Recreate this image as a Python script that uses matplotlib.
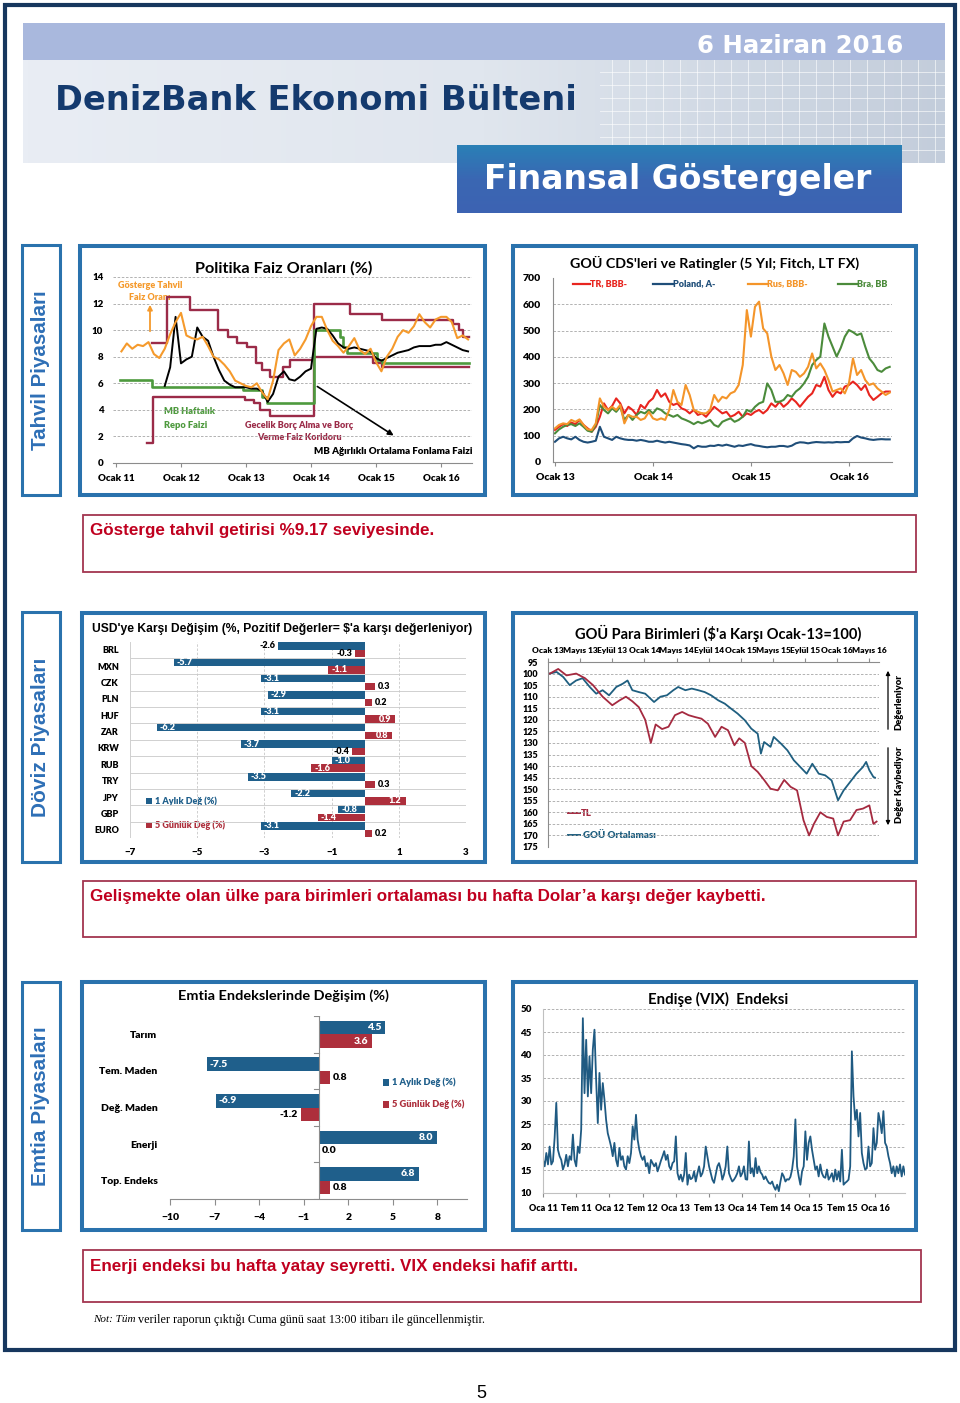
import numpy as np
import matplotlib
matplotlib.use("Agg")
import matplotlib.pyplot as plt
from matplotlib.patches import Rectangle
from matplotlib.colors import LinearSegmentedColormap

plt.rcParams["font.family"] = ["Lato", "DejaVu Sans"]
plt.rcParams["font.weight"] = "heavy"

# ---------------- data ----------------
# Politika faiz oranlari (%)
pol_ticks = [2011, 2012, 2013, 2014, 2015, 2016]
pol_labels = ["Ocak 11", "Ocak 12", "Ocak 13", "Ocak 14", "Ocak 15", "Ocak 16"]
bond_start = 2011 + 1 / 12     # monthly from Feb 2011
bond = [8.4, 9.0, 8.6, 8.9, 8.8, 9.1, 8.2, 7.9, 8.6, 9.7, 10.6,
        11.3, 9.6, 9.4, 9.3, 9.5, 8.8, 8.0, 7.8, 7.4, 6.9, 6.2, 6.0,
        5.8, 5.7, 6.0, 5.3, 4.8, 6.2, 8.5, 9.0, 9.3, 8.1, 8.6, 9.3,
        10.3, 11.0, 11.0, 10.0, 9.2, 8.8, 8.3, 8.8, 9.4, 8.5, 8.2, 8.6,
        7.6, 6.9, 8.0, 8.6, 9.5, 10.0, 9.8, 10.3, 11.2, 10.6, 10.2, 10.8,
        11.0, 11.0, 10.6, 9.4, 9.6, 9.3]
aofm_start = 2011 + 9 / 12     # monthly from Oct 2011
aofm = [5.8, 7.2, 11.0,
        7.5, 7.8, 8.0, 10.2, 9.5, 9.2, 8.0, 7.0, 6.2, 5.9, 5.7, 5.7,
        5.7, 5.6, 5.6, 5.4, 4.6, 5.2, 6.5, 6.9, 6.3, 6.2, 6.5, 6.9,
        7.1, 10.1, 10.2, 10.1, 9.6, 9.0, 8.7, 8.6, 8.7, 8.6, 8.5, 8.4,
        7.9, 7.7, 7.9, 8.1, 8.3, 8.4, 8.5, 8.7, 8.8, 8.8, 8.8, 8.9,
        8.9, 9.1, 8.9, 8.7, 8.5, 8.4]
corr_up_t = [2011.55, 2011.79, 2012.14, 2012.57, 2012.73, 2012.86, 2013.01, 2013.15,
             2013.25, 2013.37, 2013.57, 2013.68, 2014.04, 2014.60, 2015.09, 2016.19,
             2016.27, 2016.34, 2016.43]
corr_up = [9.0, 12.5, 11.5, 10.0, 9.5, 9.0, 8.75, 7.5, 7.0, 6.5, 7.25, 7.75,
           12.0, 11.25, 10.75, 10.5, 10.0, 9.5, 9.5]
corr_lo_t = [2011.47, 2011.57, 2012.99, 2013.13, 2013.22, 2013.37, 2014.04, 2014.95,
             2015.09, 2016.43]
corr_lo = [1.5, 5.0, 4.75, 4.5, 4.0, 3.5, 8.0, 7.5, 7.25, 7.25]
repo_t = [2011.06, 2011.55, 2012.96, 2013.24, 2013.33, 2014.04, 2014.45, 2014.50,
          2014.55, 2015.01, 2015.09, 2016.43]
repo = [6.25, 5.75, 5.5, 5.0, 4.5, 10.0, 9.5, 8.75, 8.25, 7.75, 7.5, 7.5]

# GOU CDS (half-monthly from Jan 2013)
cds_ticks = [2013, 2014, 2015, 2016]
cds_labels = ["Ocak 13", "Ocak 14", "Ocak 15", "Ocak 16"]
cds_tr = [122, 134, 144, 137, 150, 144, 160, 141, 128, 115,
          134, 172, 223, 198, 213, 242, 223, 185, 210, 198,
          179, 217, 204, 229, 242, 274, 248, 261, 229, 217,
          223, 204, 198, 185, 198, 179, 185, 172, 191, 210,
          198, 185, 191, 172, 179, 191, 172, 185, 179, 191,
          198, 185, 198, 223, 210, 229, 210, 223, 242, 229,
          210, 229, 248, 261, 293, 287, 324, 274, 248, 268,
          261, 287, 293, 306, 293, 274, 293, 255, 236, 248,
          261, 268, 268]
cds_pl = [77, 90, 96, 90, 86, 96, 84, 77, 74, 77,
          81, 134, 96, 90, 84, 96, 90, 86, 84, 84,
          81, 84, 81, 77, 77, 81, 77, 74, 77, 74,
          71, 68, 66, 63, 52, 61, 58, 58, 62, 61,
          65, 62, 66, 62, 58, 63, 61, 65, 68, 63,
          61, 58, 56, 58, 58, 61, 61, 58, 62, 71,
          75, 74, 71, 74, 76, 75, 74, 75, 74, 76,
          75, 76, 76, 90, 99, 93, 90, 86, 84, 86,
          87, 86, 86]
cds_ru = [128, 141, 147, 144, 160, 153, 162, 141, 124, 122,
          147, 242, 210, 198, 210, 198, 217, 147, 179, 172,
          172, 160, 166, 191, 166, 160, 166, 160, 198, 274,
          229, 217, 293, 255, 198, 191, 185, 185, 198, 255,
          229, 248, 242, 261, 268, 293, 369, 578, 477, 591,
          610, 508, 489, 401, 350, 369, 337, 293, 350, 343,
          324, 337, 362, 413, 356, 375, 350, 312, 268, 274,
          280, 261, 299, 394, 331, 350, 312, 293, 299, 280,
          268, 255, 264]
cds_br = [109, 124, 134, 141, 144, 137, 147, 134, 119, 115,
          141, 217, 198, 185, 204, 191, 210, 160, 179, 160,
          179, 191, 185, 198, 185, 204, 198, 185, 179, 172,
          179, 166, 160, 153, 144, 153, 147, 153, 160, 141,
          134, 153, 160, 166, 153, 160, 172, 198, 191, 210,
          223, 229, 299, 274, 229, 229, 236, 255, 248, 268,
          280, 299, 324, 369, 388, 401, 527, 477, 439, 401,
          434, 477, 502, 494, 483, 489, 439, 394, 375, 350,
          343, 356, 362]
cds_names = ["TR, BBB-", "Poland, A-", "Rus, BBB-", "Bra, BB"]

# USD'ye karsi degisim (%)
fx_cats = ["BRL", "MXN", "CZK", "PLN", "HUF", "ZAR", "KRW", "RUB", "TRY", "JPY", "GBP", "EURO"]
fx_1m = [-2.6, -5.7, -3.1, -2.9, -3.1, -6.2, -3.7, -1.0, -3.5, -2.2, -0.8, -3.1]
fx_5d = [-0.3, -1.1, 0.3, 0.2, 0.9, 0.8, -0.4, -1.6, 0.3, 1.2, -1.4, 0.2]

# GOU para birimleri (Ocak-13 = 100), months since Jan 2013
fxi_ticks = [0, 4, 8, 12, 16, 20, 24, 28, 32, 36, 40]
fxi_labels = ["Ocak 13", "Mayıs 13", "Eylül 13", "Ocak 14", "Mayıs 14", "Eylül 14",
              "Ocak 15", "Mayıs 15", "Eylül 15", "Ocak 16", "Mayıs 16"]
tl_m = [0, 0.25, 1.27, 2.3, 3.5, 4.6, 5.6, 6.8, 8.0, 8.9,
        9.7, 10.5, 11.3, 12.1, 12.8, 13.4, 14.2, 15.0, 15.8, 16.7,
        17.5, 18.3, 19.1, 19.9, 20.8, 21.6, 22.4, 23.2, 23.8, 24.5,
        25.3, 26.1, 26.9, 27.7, 28.6, 29.4, 30.2, 31.0, 31.8, 32.5,
        33.1, 33.9, 34.7, 35.5, 36.1, 36.8, 37.6, 38.4, 39.2, 40.0,
        40.5, 40.9]
tl_v = [100, 100, 98, 100.8, 100, 102, 105, 110, 113.7, 111.6,
        110, 112, 114.5, 120, 130, 122, 124, 123, 118, 116.6,
        118, 118.8, 119.5, 121.7, 127.4, 123, 124.5, 131, 128, 130,
        140, 142.5, 146, 149.8, 150.5, 146, 149, 150.5, 163.4, 170,
        165, 160, 162, 162.7, 170, 164, 163.4, 159, 158.4, 157,
        165, 164]
goo_m = [0, 0.25, 1.07, 1.9, 2.7, 3.5, 4.3, 5.2, 6.0, 6.8,
         7.6, 8.5, 9.3, 9.9, 10.5, 11.3, 12.1, 13.2, 14.0, 14.8,
         15.6, 16.2, 17.1, 17.9, 18.7, 19.5, 20.3, 21.2, 22.0, 22.8,
         23.6, 24.5, 25.3, 26.1, 26.5, 26.9, 27.7, 28.1, 29.0, 29.8,
         30.6, 31.4, 32.2, 32.9, 33.7, 34.5, 35.3, 36.1, 36.8, 37.6,
         38.4, 39.2, 39.6, 40.0, 40.5, 40.7]
goo_v = [100, 100, 99.3, 101.5, 105, 103, 102, 105.8, 108.7, 107.2,
         109.4, 105.8, 104.4, 103, 107.2, 108, 108.7, 112.3, 110, 109.4,
         107.2, 105.8, 107.2, 106.5, 107.2, 108, 109.4, 111.6, 113, 115.2,
         117.3, 120.2, 123.8, 126, 134.6, 129.6, 131.7, 127.4, 130.3, 133.2,
         137.5, 140.4, 143.3, 139, 143.3, 144, 146.2, 154.8, 150.5, 146.9,
         143.3, 140.4, 138.2, 141.8, 144.7, 145]

# Emtia endekslerinde degisim (%)
cm_cats = ["Tarım", "Tem. Maden", "Değ. Maden", "Enerji", "Top. Endeks"]
cm_1m = [4.5, -7.5, -6.9, 8.0, 6.8]
cm_5d = [3.6, 0.8, -1.2, 0.0, 0.8]
bar_names = ["1 Aylık Değ (%)", "5 Günlük Değ (%)"]

# VIX (every 0.025 yr from Jan 2011)
vix_start = 2011.0
vix_ticks = [2011 + 0.5 * k for k in range(11)]
vix_labels = ["Oca 11", "Tem 11", "Oca 12", "Tem 12", "Oca 13", "Tem 13",
              "Oca 14", "Tem 14", "Oca 15", "Tem 15", "Oca 16"]
vix = [17.2, 15.8, 18.7, 16.2, 20.1, 16.2, 16.9, 22.0, 29.6, 19.4,
       18.0, 17.2, 15.1, 16.2, 18.3, 15.8, 18.0, 17.2, 22.7, 17.2,
       15.8, 20.1, 18.7, 23.8, 48.0, 31.7, 43.3, 31.0, 39.7, 31.7,
       41.2, 45.5, 34.6, 25.2, 36.1, 28.1, 33.9, 30.3, 25.9, 23.0,
       21.6, 20.1, 18.0, 20.9, 17.2, 15.8, 19.8, 17.2, 18.0, 15.8,
       15.1, 18.0, 16.5, 18.7, 24.5, 21.6, 27.0, 21.6, 19.4, 18.0,
       17.2, 18.0, 15.8, 16.5, 14.3, 17.2, 16.5, 15.8, 16.5, 14.7,
       15.8, 17.0, 18.0, 19.1, 17.2, 18.3, 15.8, 15.1, 16.5, 16.9,
       22.3, 14.3, 12.9, 14.0, 12.5, 14.0, 18.7, 11.8, 14.0, 13.0,
       13.3, 14.7, 12.5, 14.3, 15.8, 13.6, 14.3, 15.8, 20.1, 18.0,
       15.8, 14.3, 12.9, 12.2, 14.0, 15.8, 16.5, 15.1, 12.9, 14.0,
       15.8, 20.1, 14.3, 13.3, 12.5, 12.9, 13.5, 14.3, 15.8, 13.6,
       14.3, 15.8, 13.0, 12.9, 21.2, 14.3, 15.4, 13.6, 17.6, 14.3,
       15.8, 14.5, 14.0, 13.0, 13.6, 12.8, 12.2, 12.0, 12.5, 11.4,
       10.7, 11.8, 10.4, 12.5, 14.3, 13.6, 12.5, 13.0, 12.9, 13.5,
       15.1, 18.0, 26.0, 15.8, 13.6, 11.8, 14.7, 15.8, 23.4, 17.2,
       20.9, 22.3, 19.4, 17.2, 15.1, 15.8, 13.6, 16.2, 14.3, 13.5,
       13.3, 15.1, 12.9, 13.5, 14.3, 12.5, 15.1, 12.9, 14.7, 12.5,
       19.4, 11.8, 12.2, 12.5, 12.9, 15.8, 40.8, 31.0, 25.9, 28.1,
       22.3, 27.4, 18.7, 16.5, 15.1, 15.4, 20.1, 15.8, 16.5, 24.1,
       19.4, 20.9, 27.4, 25.6, 23.0, 27.8, 20.9, 20.1, 18.0, 16.5,
       14.3, 15.8, 13.6, 15.8, 14.3, 16.2, 13.6, 15.8, 14.0]

# ---------------- colours ----------------
NAVY = "#17375e"
PANEL = "#2a72ad"
BOXRED = "#a3354f"
TXTRED = "#c0001f"
BLUE = "#1f5f8b"
RED = "#ad2f3c"
MAROON = "#9b2b48"
GRID = "#a6a6a6"
AXC = "#8c8c8c"

W, H = 960, 1403
fig = plt.figure(figsize=(W / 100, H / 100), dpi=100)
page = fig.add_axes([0, 0, 1, 1])
page.axis("off")
R = fig.canvas.get_renderer()


def px_axes(x0, y0, x1, y1):
    ax = fig.add_axes([x0 / W, 1 - y1 / H, (x1 - x0) / W, (y1 - y0) / H])
    ax.set_facecolor("none")
    for s in ax.spines.values():
        s.set_visible(False)
    return ax


def put(x, y, s, width=None, size=8, vertical=False, **kw):
    kw.setdefault("va", "center")
    t = page.text(x, y, s, fontsize=size, **kw)
    if width:
        bb = t.get_window_extent(renderer=R)
        ext = bb.height if vertical else bb.width
        t.set_fontsize(size * width / ext)
    return t


def rect(x0, y0, x1, y1, ec, lw, fc="none", z=2):
    page.add_patch(Rectangle((x0, y0), x1 - x0, y1 - y0, ec=ec, fc=fc, lw=lw, zorder=z))


def hgrid(ax, vals):
    for v in vals:
        ax.axhline(v, color=GRID, lw=0.6, ls=(0, (3, 2)), zorder=0)


# ---------------- page frame & header ----------------
rect(5, 5, 955, 1350, NAVY, 3.0)
page.add_patch(Rectangle((23, 23), 922, 37, fc="#a9b8dd", ec="none", zorder=1))
hcm = LinearSegmentedColormap.from_list("h", ["#e9edf4", "#e0e6ee", "#c3cddb"])
page.imshow(np.linspace(0, 1, 200)[None, :], extent=(23, 945, 163, 60), cmap=hcm,
            aspect="auto", zorder=1)
for gx in range(612, 945, 17):
    page.plot([gx, gx], [60, 163], color="white", lw=0.7, alpha=0.6, zorder=1)
for gy in range(72, 163, 13):
    page.plot([600, 945], [gy, gy], color="white", lw=0.7, alpha=0.6, zorder=1)
fcm = LinearSegmentedColormap.from_list("f", ["#2a80b6", "#3a67b3", "#3d63b2"])
page.imshow(np.linspace(0, 1, 100)[:, None], extent=(457, 902, 213, 145), cmap=fcm,
            aspect="auto", zorder=2)
page.set_xlim(0, W)
page.set_ylim(H, 0)

put(903, 46, "6 Haziran 2016", width=207, size=16, ha="right", color="white",
    family="DejaVu Sans", weight="bold", zorder=3)
put(55, 101, "DenizBank Ekonomi Bülteni", width=521, size=24, ha="left", color="#143a6e",
    family="DejaVu Sans", weight="bold", zorder=3)
put(678, 179, "Finansal Göstergeler", width=388, size=24, ha="center", color="white",
    family="DejaVu Sans", weight="bold", zorder=3)

# section boxes, panels and comment boxes
sections = [("Tahvil Piyasaları", 245, 495), ("Döviz Piyasaları", 612, 862),
            ("Emtia Piyasaları", 982, 1230)]
for name, y0, y1 in sections:
    rect(22, y0, 60, y1, PANEL, 2.2)
    put(41, (y0 + y1) / 2, name, width=158, size=12, vertical=True, rotation=90,
        ha="center", color="#2e6fb6", family="Liberation Sans", weight="bold")

for x0, y0, x1, y1 in [(80, 246, 485, 495), (513, 246, 916, 495), (82, 613, 485, 862),
                       (513, 613, 916, 862), (82, 982, 485, 1230), (513, 982, 916, 1230)]:
    rect(x0, y0, x1, y1, PANEL, 2.9)

comments = [(83, 515, 916, 572, "Gösterge tahvil getirisi %9.17 seviyesinde.", 344),
            (83, 881, 916, 937, "Gelişmekte olan ülke para birimleri ortalaması bu hafta "
                                "Dolar’a karşı değer kaybetti.", 676),
            (83, 1250, 921, 1302, "Enerji endeksi bu hafta yatay seyretti. VIX endeksi "
                                  "hafif arttı.", 487)]
for x0, y0, x1, y1, s, w in comments:
    rect(x0, y0, x1, y1, BOXRED, 1.3)
    put(90, y0 + 16, s, width=w, size=11, ha="left", color=TXTRED,
        family="Liberation Sans", weight="bold")

t_not = put(93, 1320, "Not: Tüm", size=8, ha="left", style="italic", weight="normal",
            family="Liberation Serif")
bb = t_not.get_window_extent(renderer=R)
put(bb.x1 + 3, 1320, "veriler raporun çıktığı Cuma günü saat 13:00 itibarı ile güncellenmiştir.",
    width=484 - bb.x1 - 3, size=8, ha="left", weight="normal", family="Liberation Serif")
put(481, 1393, "5", size=13, ha="center", weight="normal", family="Liberation Sans")

# ---------------- chart 1: policy rates ----------------
put(283.5, 268, "Politika Faiz Oranları (%)", width=177, size=10, ha="center", weight="bold")
ax = px_axes(113, 277, 472, 463)
ax.set_xlim(2010.954, 2016.477)
ax.set_ylim(0, 14)
hgrid(ax, range(2, 15, 2))
ax.step(corr_up_t, corr_up, where="post", color=MAROON, lw=1.7)
ax.step(corr_lo_t, corr_lo, where="post", color=MAROON, lw=1.7)
ax.step(repo_t, repo, where="post", color="#4e9a3e", lw=1.9)
ax.plot(aofm_start + np.arange(len(aofm)) / 12, aofm, color="black", lw=1.4)
ax.plot(bond_start + np.arange(len(bond)) / 12, bond, color="#f59a2c", lw=1.5)
ax.set_yticks(range(0, 15, 2))
ax.set_xticks(pol_ticks, pol_labels)
ax.spines["bottom"].set_visible(True)
ax.spines["bottom"].set_color(AXC)
ax.tick_params(axis="y", length=0, pad=7, labelsize=7)
ax.tick_params(axis="x", length=3, color=AXC, pad=5, labelsize=7)

put(150, 286, "Gösterge Tahvil", size=6.5, ha="center", color="#f59a2c")
put(150, 298, "Faiz Oranı", size=6.5, ha="center", color="#f59a2c")
page.annotate("", xy=(150, 302), xytext=(150, 334),
              arrowprops=dict(arrowstyle="-|>", color="#f59a2c", lw=1.3, mutation_scale=7))
put(164, 412, "MB Haftalık", size=6.7, ha="left", color="#4e9a3e")
put(164, 425, "Repo Faizi", size=6.7, ha="left", color="#4e9a3e")
put(299, 426, "Gecelik Borç Alma ve Borç", size=6.5, ha="center", color=MAROON)
put(299, 437, "Verme Faiz Koridoru", size=6.5, ha="center", color=MAROON)
put(472, 452, "MB Ağırlıklı Ortalama Fonlama Faizi", width=159, size=6.3, ha="right",
    color="black")
page.annotate("", xy=(396, 437), xytext=(315, 385),
              arrowprops=dict(arrowstyle="-|>", color="black", lw=1.2, mutation_scale=8))

# ---------------- chart 2: CDS ----------------
put(715, 263, "GOÜ CDS'leri ve Ratingler (5 Yıl; Fitch, LT FX)", width=290, size=10,
    ha="center", weight="bold")
cds_cols = ["#e8251f", "#1f4e79", "#f4952a", "#4b8b3b"]
for (lx, tx), name, c in zip([(573, 590), (653, 673), (748, 767), (838, 857)],
                             cds_names, cds_cols):
    page.plot([lx, tx], [284, 284], color=c, lw=1.6)
    put(tx, 284, name, size=6.5, ha="left", color=c)
ax = px_axes(553, 278, 892, 462)
ax.set_xlim(2012.98, 2016.44)
ax.set_ylim(0, 700)
hgrid(ax, range(100, 700, 100))
t_cds = 2013 + np.arange(len(cds_tr)) * 0.5 / 12
for series, c in [(cds_pl, cds_cols[1]), (cds_tr, cds_cols[0]),
                  (cds_br, cds_cols[3]), (cds_ru, cds_cols[2])]:
    ax.plot(t_cds, series, color=c, lw=1.5)
ax.set_yticks(range(0, 701, 100))
ax.set_xticks(cds_ticks, cds_labels)
for s in ("left", "bottom"):
    ax.spines[s].set_visible(True)
    ax.spines[s].set_color(AXC)
ax.tick_params(axis="y", length=0, pad=9, labelsize=7.5)
ax.tick_params(axis="x", length=3, color=AXC, pad=5, labelsize=7.5)


# ---------------- bar label helper ----------------
def label_bar(ax, v, yc, ppu, size, force_out=False):
    inside = abs(v) * ppu >= 20 and not force_out
    if inside:
        ax.annotate(f"{v:.1f}", (v, yc), xytext=(2 if v < 0 else -3, 0),
                    textcoords="offset points", ha="left" if v < 0 else "right",
                    va="center", color="white", fontsize=size)
    else:
        ax.annotate(f"{v:.1f}", (v, yc), xytext=(-2 if v < 0 else 2, 0),
                    textcoords="offset points", ha="right" if v < 0 else "left",
                    va="center", color="black", fontsize=size)


# ---------------- chart 3: USD bars ----------------
put(282, 629, "USD'ye Karşı Değişim (%, Pozitif Değerler= $'a karşı değerleniyor)",
    width=380, size=9, ha="center", family="Liberation Sans", weight="bold")
ax = px_axes(130, 641.5, 466, 838)
ax.set_xlim(-7, 3)
ax.set_ylim(len(fx_cats) - 0.5, -0.5)
yy = np.arange(len(fx_cats))
for b in yy + 0.5:
    ax.plot([-7, 3], [b, b], color="#d0d0d0", lw=0.7, zorder=0)
for v in [-5, -3, -1, 1, 3]:
    ax.axvline(v, color="#c8c8c8", lw=0.6, ls=(0, (3, 2)), zorder=0)
ax.axvline(-7, color="#d0d0d0", lw=0.7, zorder=0)
ax.barh(yy - 0.235, fx_1m, height=0.45, color=BLUE)
ax.barh(yy + 0.235, fx_5d, height=0.45, color=RED)
for i, cat in enumerate(fx_cats):
    label_bar(ax, fx_1m[i], i - 0.235, 33.6, 6.5, force_out=(cat == "BRL"))
    label_bar(ax, fx_5d[i], i + 0.235, 33.6, 6.5)
ax.set_yticks(yy, fx_cats)
ax.set_xticks([-7, -5, -3, -1, 1, 3])
ax.tick_params(axis="y", length=0, pad=8, labelsize=6.5)
ax.tick_params(axis="x", length=0, pad=7, labelsize=7)
for yl, name, c in [(801, bar_names[0], BLUE), (825, bar_names[1], RED)]:
    page.add_patch(Rectangle((146, yl - 3), 6, 6, fc=c, ec="none"))
    put(155, yl, name, size=6.5, ha="left", color=c)

# ---------------- chart 4: EM currencies ----------------
put(718, 633, "GOÜ Para Birimleri ($'a Karşı Ocak-13=100)", width=286, size=10,
    ha="center", weight="bold")
ax = px_axes(548, 662, 879, 847)
ax.set_xlim(0, 41.2)
ax.set_ylim(175, 95)
hgrid(ax, range(100, 180, 5))
ax.plot(goo_m, goo_v, color="#1f5f80", lw=1.3)
ax.plot(tl_m, tl_v, color="#a52a40", lw=1.3)
ax.xaxis.tick_top()
ax.set_xticks(fxi_ticks, fxi_labels)
ax.set_yticks(range(95, 176, 5))
for s in ("left", "top"):
    ax.spines[s].set_visible(True)
    ax.spines[s].set_color(AXC)
ax.tick_params(axis="y", length=0, pad=7, labelsize=6.5)
ax.tick_params(axis="x", length=3, color=AXC, pad=3, labelsize=6)
page.plot([568, 580], [813, 813], color="#a52a40", lw=1.4)
put(581, 813, "TL", size=7, ha="left", color="#a52a40")
page.plot([568, 580], [835, 835], color="#1f5f80", lw=1.4)
put(583, 835, "GOÜ Ortalaması", size=7, ha="left", color="#1f5f80")
page.annotate("", xy=(888, 668), xytext=(888, 732),
              arrowprops=dict(arrowstyle="-|>", color="black", lw=0.9, mutation_scale=6))
page.annotate("", xy=(888, 828), xytext=(888, 745),
              arrowprops=dict(arrowstyle="-|>", color="black", lw=0.9, mutation_scale=6))
put(899, 702, "Değerleniyor", width=56, size=6.5, vertical=True, rotation=90, ha="center")
put(899, 785, "Değer Kaybediyor", width=77, size=6.5, vertical=True, rotation=90,
    ha="center")

# ---------------- chart 5: commodities ----------------
put(283.5, 996, "Emtia Endekslerinde Değişim (%)", width=211, size=10, ha="center",
    weight="bold")
ax = px_axes(170, 1016, 467, 1199)
ax.set_xlim(-10, 10)
ax.set_ylim(len(cm_cats) - 0.5, -0.5)
yy = np.arange(len(cm_cats))
ax.barh(yy - 0.185, cm_1m, height=0.37, color=BLUE)
ax.barh(yy + 0.185, cm_5d, height=0.37, color=RED)
ax.axvline(0, color=AXC, lw=0.8)
for b in np.arange(-0.5, len(cm_cats), 1):
    ax.plot([-0.27, 0], [b, b], color=AXC, lw=0.8)
for i in range(len(cm_cats)):
    label_bar(ax, cm_1m[i], i - 0.185, 14.9, 7.5)
    label_bar(ax, cm_5d[i], i + 0.185, 14.9, 7.5)
ax.spines["bottom"].set_visible(True)
ax.spines["bottom"].set_color(AXC)
ax.set_xticks([-10, -7, -4, -1, 2, 5, 8])
ax.set_yticks(yy, cm_cats)
ax.tick_params(axis="y", length=0, pad=9, labelsize=7.5)
ax.tick_params(axis="x", length=4, color=AXC, pad=6, labelsize=7.5)
for yl, name, c in [(1082, bar_names[0], BLUE), (1104, bar_names[1], RED)]:
    page.add_patch(Rectangle((383, yl - 3.5), 6, 7, fc=c, ec="none"))
    put(392, yl, name, size=6.7, ha="left", color=c)

# ---------------- chart 6: VIX ----------------
put(718.5, 999, "Endişe (VIX)  Endeksi", width=141, size=10, ha="center", weight="bold")
ax = px_axes(543, 1009, 905, 1193)
ax.set_xlim(2011.0, 2016.45)
ax.set_ylim(10, 50)
hgrid(ax, range(15, 51, 5))
ax.plot(vix_start + 0.025 * np.arange(len(vix)), vix, color="#1f5a82", lw=1.3)
ax.set_yticks(range(10, 51, 5))
ax.set_xticks(vix_ticks, vix_labels)
for s in ("left", "bottom"):
    ax.spines[s].set_visible(True)
    ax.spines[s].set_color("#c0c0c0")
ax.tick_params(axis="y", length=0, pad=8, labelsize=7)
ax.tick_params(axis="x", length=3, color=AXC, pad=5, labelsize=6.5)

fig.savefig("out.png", dpi=100)
